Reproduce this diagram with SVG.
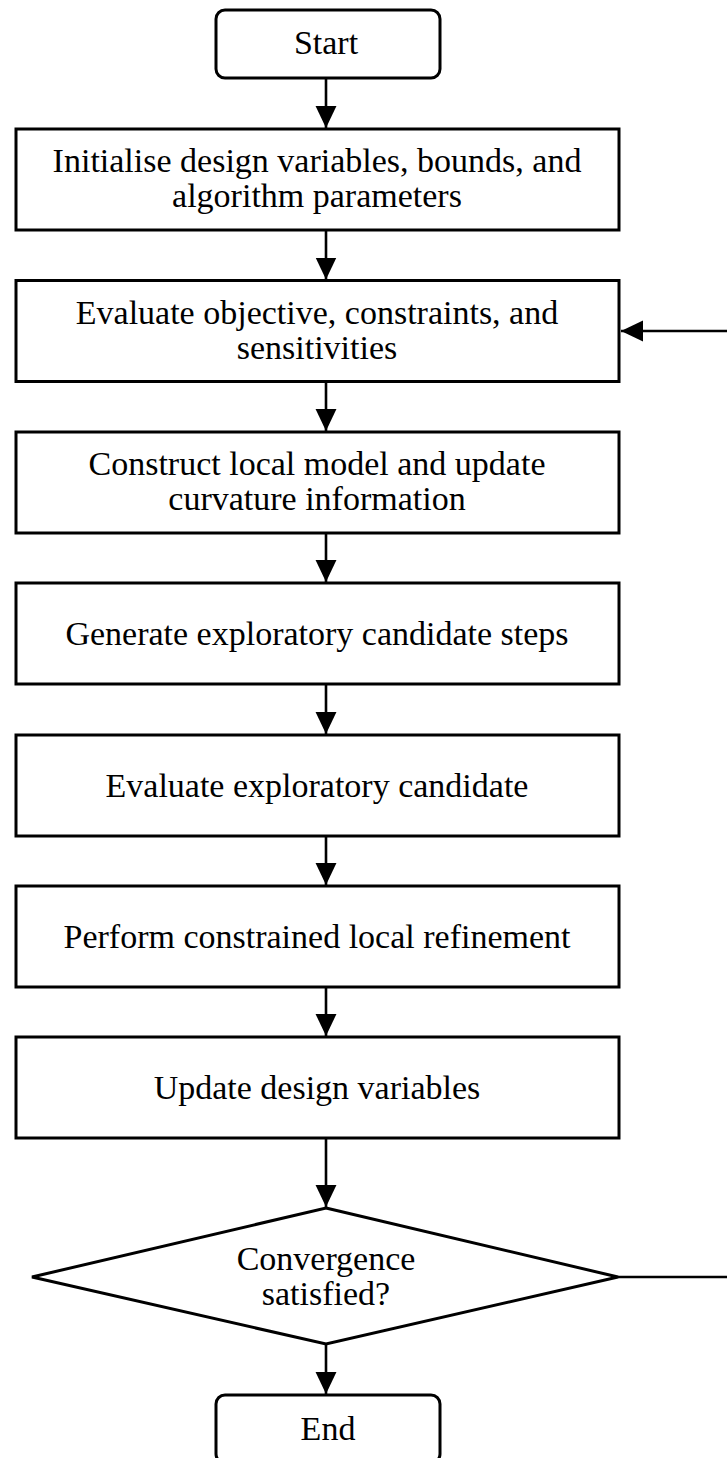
<svg xmlns="http://www.w3.org/2000/svg" width="727" height="1458" viewBox="0 0 727 1458">
  <defs>
    <marker id="arrow" markerUnits="userSpaceOnUse" markerWidth="22" markerHeight="22" viewBox="0 0 20 20" refX="20" refY="10" orient="auto">
      <path d="M0,0.5 L20,10 L0,19.5 Z" fill="#000"/>
    </marker>
    <style>
      .box { fill: #fff; stroke: #000; stroke-width: 3; }
      .term { fill: #fff; stroke: #000; stroke-width: 3; }
      .link { fill: none; stroke: #000; stroke-width: 2.6; }
      .label { font-family: "Liberation Serif", "Times New Roman", serif; font-size: 34px; fill: #000; text-anchor: middle; }
    </style>
  </defs>
  <rect width="727" height="1458" fill="#fff"/>

  <!-- connectors -->
  <g id="connectors">
    <line class="link" x1="326" y1="78" x2="326" y2="128" marker-end="url(#arrow)"/>
    <line class="link" x1="326" y1="230" x2="326" y2="279.5" marker-end="url(#arrow)"/>
    <line class="link" x1="326" y1="381.5" x2="326" y2="431" marker-end="url(#arrow)"/>
    <line class="link" x1="326" y1="533" x2="326" y2="582" marker-end="url(#arrow)"/>
    <line class="link" x1="326" y1="684" x2="326" y2="734" marker-end="url(#arrow)"/>
    <line class="link" x1="326" y1="836" x2="326" y2="885" marker-end="url(#arrow)"/>
    <line class="link" x1="326" y1="987" x2="326" y2="1036" marker-end="url(#arrow)"/>
    <line class="link" x1="326" y1="1138" x2="326" y2="1207" marker-end="url(#arrow)"/>
    <line class="link" x1="326" y1="1344" x2="326" y2="1394" marker-end="url(#arrow)"/>
    <!-- loop back from the decision to the evaluation step -->
    <path class="link" d="M618,1277 H731 V331 H621" marker-end="url(#arrow)"/>
  </g>

  <g id="start">
    <rect class="term" x="216" y="10" width="224" height="68" rx="9"/>
    <text class="label" x="326" y="54">Start</text>
  </g>

  <g id="init">
    <rect class="box" x="16" y="129" width="603" height="101"/>
    <text class="label" x="317" y="172">Initialise design variables, bounds, and</text>
    <text class="label" x="317" y="207">algorithm parameters</text>
  </g>

  <g id="evaluate">
    <rect class="box" x="16" y="280.5" width="603" height="101"/>
    <text class="label" x="317" y="323.5">Evaluate objective, constraints, and</text>
    <text class="label" x="317" y="358.5">sensitivities</text>
  </g>

  <g id="model">
    <rect class="box" x="16" y="432" width="603" height="101"/>
    <text class="label" x="317" y="475">Construct local model and update</text>
    <text class="label" x="317" y="510">curvature information</text>
  </g>

  <g id="generate">
    <rect class="box" x="16" y="583" width="603" height="101"/>
    <text class="label" x="317" y="645">Generate exploratory candidate steps</text>
  </g>

  <g id="explore">
    <rect class="box" x="16" y="735" width="603" height="101"/>
    <text class="label" x="317" y="797">Evaluate exploratory candidate</text>
  </g>

  <g id="refine">
    <rect class="box" x="16" y="886" width="603" height="101"/>
    <text class="label" x="317" y="948">Perform constrained local refinement</text>
  </g>

  <g id="update">
    <rect class="box" x="16" y="1037" width="603" height="101"/>
    <text class="label" x="317" y="1099">Update design variables</text>
  </g>

  <g id="converged">
    <polygon class="box" points="326,1208 618,1277 326,1344 32,1277"/>
    <text class="label" x="326" y="1270">Convergence</text>
    <text class="label" x="326" y="1305">satisfied?</text>
  </g>

  <g id="end">
    <rect class="term" x="216" y="1395" width="224" height="68" rx="9"/>
    <text class="label" x="328" y="1440">End</text>
  </g>
</svg>
